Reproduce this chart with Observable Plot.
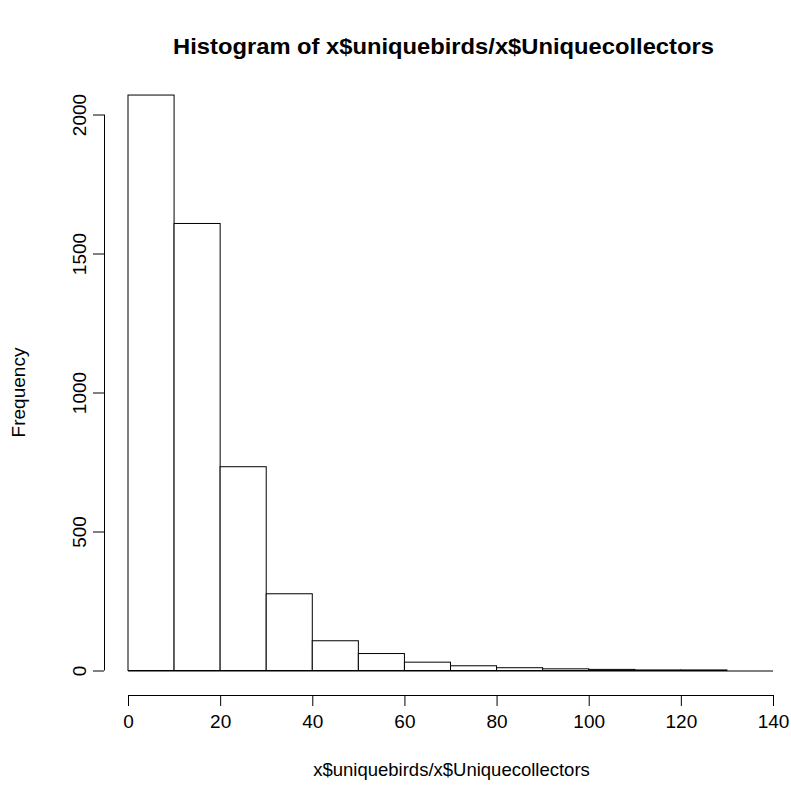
<!DOCTYPE html>
<html><head><meta charset="utf-8">
<script src="https://cdn.jsdelivr.net/npm/d3@7"></script>
<script src="https://cdn.jsdelivr.net/npm/@observablehq/plot@0.6"></script>
<style>body{margin:0;background:#fff}</style>
</head><body><div id="chart"></div>
<script>
const binStart = [0, 10, 20, 30, 40, 50, 60, 70, 80, 90, 100, 110, 120, 130];
const binEnd   = [10, 20, 30, 40, 50, 60, 70, 80, 90, 100, 110, 120, 130, 140];
const counts   = [2070, 1608, 733, 276, 107, 61, 30, 17, 10, 6, 4, 2, 2, 0];
const xTicks = [0, 20, 40, 60, 80, 100, 120, 140];
const yTicks = [0, 500, 1000, 1500, 2000];
const title = "Histogram of x$uniquebirds/x$Uniquecollectors";
const xLabel = "x$uniquebirds/x$Uniquecollectors";
const yLabel = "Frequency";

const bins = counts.map((c, i) => ({x1: binStart[i], x2: binEnd[i], count: c}));

const chart = Plot.plot({
  width: 791, height: 792,
  marginTop: 89, marginLeft: 104, marginBottom: 97, marginRight: 0,
  style: {fontFamily: "'Liberation Sans', Arial, sans-serif", background: "white", color: "black"},
  x: {domain: [0, 140], range: [128, 773]},
  y: {domain: [0, 2000], range: [670.5, 114.5]},
  marks: [
    Plot.rectY(bins, {x1: "x1", x2: "x2", y: "count", fill: "white", stroke: "black", strokeWidth: 1}),
    Plot.ruleY([0], {x1: binStart[0], x2: binEnd[binEnd.length - 1], stroke: "black"}),
    Plot.ruleY([0], {x1: xTicks[0], x2: xTicks[xTicks.length - 1], dy: 24.5, stroke: "black"}),
    Plot.ruleX([0], {y1: yTicks[0], y2: yTicks[yTicks.length - 1], dx: -24, stroke: "black"}),
    Plot.axisX({ticks: xTicks, tickSize: 11, tickPadding: 8, fontSize: 19, label: null, tickFormat: d => String(d)}),
    Plot.axisY({ticks: yTicks, tickSize: 11, tickPadding: 8, fontSize: 19, tickRotate: -90, label: null, tickFormat: d => String(d)}),
    Plot.text([title], {frameAnchor: "top", dx: -4.5, dy: -51, fontSize: 22, fontWeight: "bold"}),
    Plot.text([xLabel], {frameAnchor: "bottom", dx: 3.5, dy: 80, fontSize: 18.5}),
    Plot.text([yLabel], {frameAnchor: "left", dx: -86, fontSize: 19, rotate: -90, textAnchor: "middle"})
  ]
});
document.getElementById("chart").appendChild(chart);

function stretchX(el, s) {
  const svgRect = chart.getBoundingClientRect();
  const r = el.getBoundingClientRect();
  const cx = r.left + r.width / 2 - svgRect.left;
  const ctm = el.parentNode.getCTM();
  const lx = (cx - ctm.e) / ctm.a;
  const g = document.createElementNS("http://www.w3.org/2000/svg", "g");
  g.setAttribute("transform", `translate(${lx},0) scale(${s},1) translate(${-lx},0)`);
  el.parentNode.insertBefore(g, el);
  g.appendChild(el);
}
d3.select(chart).selectAll("text").filter(function () { return this.textContent === title; })
  .each(function () { stretchX(this, 1.08); });
</script>
</body></html>
